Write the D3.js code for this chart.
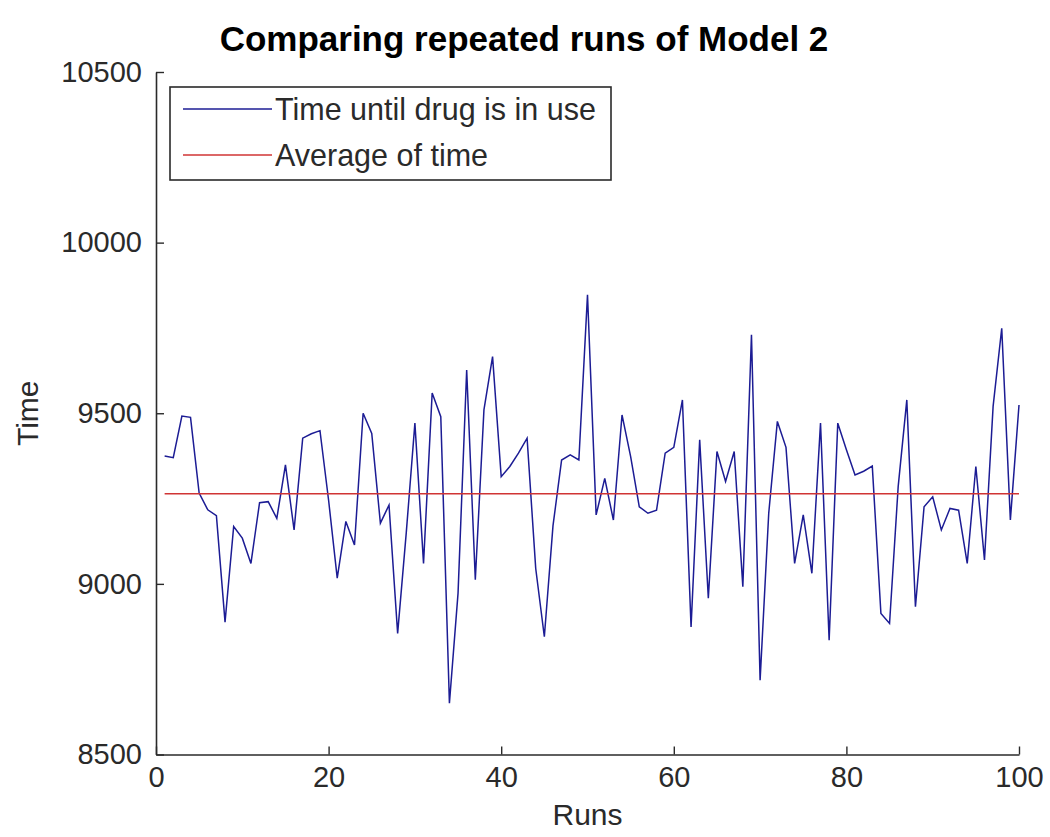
<!DOCTYPE html>
<html>
<head>
<meta charset="utf-8">
<script src="https://cdn.jsdelivr.net/npm/d3@7"></script>
<style>
  html, body { margin: 0; padding: 0; background: #fff; }
  svg { display: block; }
  text { font-family: "Liberation Sans", Arial, Helvetica, sans-serif; }
</style>
</head>
<body>
<svg id="chart" width="1050" height="837"></svg>
<script>
// ---- data ----
const runs = d3.range(1, 101);
const timeValues = [
  9375, 9370, 9492, 9488, 9266, 9217, 9200, 8888, 9168, 9134,
  9060, 9238, 9241, 9192, 9349, 9158, 9427, 9440, 9449, 9245,
  9017, 9183, 9114, 9500, 9441, 9178, 9231, 8855, 9150, 9471,
  9060, 9559, 9490, 8650, 8973, 9627, 9012, 9510, 9666, 9314,
  9344, 9383, 9427, 9045, 8845, 9170, 9363, 9378, 9363, 9847,
  9202, 9309, 9187, 9495, 9373, 9226, 9207, 9216, 9383, 9400,
  9539, 8874, 9422, 8958, 9388, 9300, 9388, 8992, 9730, 8718,
  9207, 9476, 9400, 9060, 9202, 9031, 9471, 8835, 9471, 9393,
  9319, 9330, 9345, 8913, 8884, 9285, 9539, 8933, 9226, 9255,
  9158, 9221, 9216, 9060, 9344, 9070, 9520, 9749, 9187, 9524
];
const averageTime = 9264;
const xTicks = [0, 20, 40, 60, 80, 100];
const yTicks = [8500, 9000, 9500, 10000, 10500];
const legendLabels = ["Time until drug is in use", "Average of time"];
const titleText = "Comparing repeated runs of Model 2";
const xLabel = "Runs";
const yLabel = "Time";

// ---- layout ----
const svg = d3.select("#chart");
const mLeft = 156, mRight = 1019, mTop = 72, mBottom = 754.5;
const blue = "#1c1c94", red = "#d03434", ink = "#2a2a2a";

const x = d3.scaleLinear().domain([0, 100]).range([mLeft, mRight]);
const y = d3.scaleLinear().domain([8500, 10500]).range([mBottom, mTop]);

svg.append("rect").attr("width", 1050).attr("height", 837).attr("fill", "#fff");

// axes
const xAxis = d3.axisBottom(x).tickValues(xTicks).tickSizeInner(-8).tickSizeOuter(0).tickPadding(12)
  .tickFormat(d3.format("d"));
const yAxis = d3.axisLeft(y).tickValues(yTicks).tickSizeInner(-8).tickSizeOuter(0).tickPadding(14)
  .tickFormat(d3.format("d"));

const gx = svg.append("g").attr("transform", `translate(0,${mBottom})`).call(xAxis);
const gy = svg.append("g").attr("transform", `translate(${mLeft},0)`).call(yAxis);
[gx, gy].forEach(g => {
  g.select(".domain").attr("stroke", ink).attr("stroke-width", 1.6);
  g.selectAll(".tick line").attr("stroke", ink).attr("stroke-width", 1.4);
  g.selectAll(".tick text").attr("fill", ink).style("font-size", "29px")
    .style("font-family", '"Liberation Sans", Arial, sans-serif');
});

// lines
const line = d3.line().x((d, i) => x(runs[i])).y(d => y(d));
svg.append("path").datum(timeValues)
  .attr("d", line).attr("fill", "none").attr("stroke", blue).attr("stroke-width", 1.5)
  .attr("stroke-linejoin", "miter");

svg.append("line")
  .attr("x1", x(runs[0])).attr("x2", x(runs[runs.length - 1]))
  .attr("y1", y(averageTime)).attr("y2", y(averageTime))
  .attr("stroke", red).attr("stroke-width", 1.6);

// title & labels
svg.append("text").attr("x", 524).attr("y", 51).attr("text-anchor", "middle")
  .attr("fill", "#000").style("font-size", "35px").style("font-weight", "bold").text(titleText);
svg.append("text").attr("x", (mLeft + mRight) / 2).attr("y", 825).attr("text-anchor", "middle")
  .attr("fill", ink).style("font-size", "30px").text(xLabel);
svg.append("text").attr("transform", `translate(38,${(mTop + mBottom) / 2}) rotate(-90)`)
  .attr("text-anchor", "middle").attr("fill", ink).style("font-size", "30px").text(yLabel);

// legend
const lg = svg.append("g");
lg.append("rect").attr("x", 170).attr("y", 87).attr("width", 441).attr("height", 93)
  .attr("fill", "#fff").attr("stroke", ink).attr("stroke-width", 1.6);
const legendColors = [blue, red];
legendLabels.forEach((lab, i) => {
  const cy = 109 + i * 46;
  lg.append("line").attr("x1", 183).attr("x2", 272).attr("y1", cy).attr("y2", cy)
    .attr("stroke", legendColors[i]).attr("stroke-width", 1.5);
  lg.append("text").attr("x", 275).attr("y", cy + 11).attr("fill", ink)
    .style("font-size", "30.5px").text(lab);
});
</script>
</body>
</html>
